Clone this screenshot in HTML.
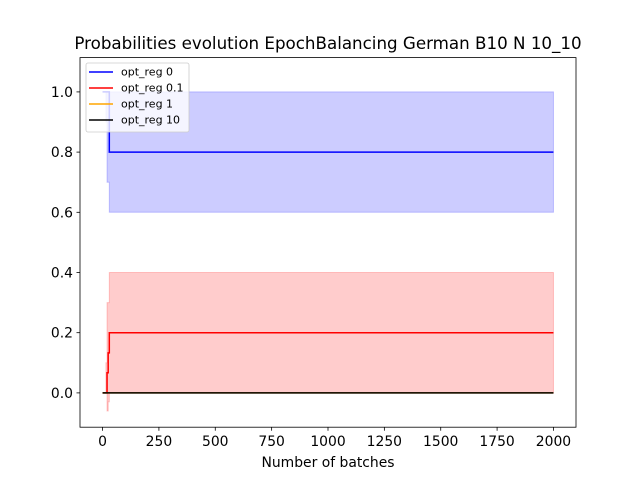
<!DOCTYPE html>
<html><head><meta charset="utf-8"><style>
body{margin:0;background:#fff;font-family:"DejaVu Sans","Liberation Sans",sans-serif;}
svg text{font-family:"DejaVu Sans","Liberation Sans",sans-serif;}
</style></head><body>
<svg id="c" width="640" height="480" xmlns="http://www.w3.org/2000/svg"></svg>
<script>
const batches=[0,15,20,25,30,2000];
const blueMean=[1,1,1,1,0.8,0.8];
const blueLo=[1,0.9,0.7,0.7,0.6,0.6];
const blueHi=[1,1,1,1,1,1];
const redMean=[0,0,0.067,0.133,0.2,0.2];
const redLo=[0,0,-0.06,-0.03,0,0];
const redHi=[0,0.1,0.3,0.3,0.4,0.4];
const zeroMean=[0,0,0,0,0,0];
const xTicks=[0,250,500,750,1000,1250,1500,1750,2000];
const yTicks=[0.0,0.2,0.4,0.6,0.8,1.0];
const L=80,R=576,T=57.6,B=427.2;
const xmin=-100,xmax=2100,ymin=-0.114,ymax=1.114;
const X=v=>L+(v-xmin)/(xmax-xmin)*(R-L);
const Y=v=>B-(v-ymin)/(ymax-ymin)*(B-T);
const svg=document.getElementById('c');const NS='http://www.w3.org/2000/svg';
function mk(t,a,p){const e=document.createElementNS(NS,t);for(const k in a)e.setAttribute(k,a[k]);(p||svg).appendChild(e);return e;}
function stepPts(arr){let p=[];for(let i=0;i<batches.length;i++){if(i>0)p.push([X(batches[i]),Y(arr[i-1])]);p.push([X(batches[i]),Y(arr[i])]);}return p;}
function band(lo,hi,color,name){const a=stepPts(hi),b=stepPts(lo).reverse();const e=mk('polygon',{points:a.concat(b).map(p=>p.join(',')).join(' '),fill:color,'fill-opacity':0.2,stroke:color,'stroke-opacity':0.2,'stroke-width':1});

}
function line(arr,color,name){const e=mk('polyline',{points:stepPts(arr).map(p=>p.join(',')).join(' '),fill:'none',stroke:color,'stroke-width':1.5});

}
band(blueLo,blueHi,'#0000ff','band-opt-reg-0');
band(redLo,redHi,'#ff0000','band-opt-reg-0-1');
line(blueMean,'#0000ff','line-opt-reg-0');
line(redMean,'#ff0000','line-opt-reg-0-1');
line(zeroMean,'#ffa500','line-opt-reg-1');
line(zeroMean,'#000000','line-opt-reg-10');
const fr=mk('rect',{x:L,y:T,width:R-L,height:B-T,fill:'none',stroke:'#000','stroke-width':0.8});

xTicks.forEach(v=>{mk('line',{x1:X(v),x2:X(v),y1:B,y2:B+3.5,stroke:'#000','stroke-width':0.8});const t=mk('text',{x:X(v),y:B+19,'font-size':13.9,'text-anchor':'middle'});t.textContent=v;

});
yTicks.forEach(v=>{mk('line',{x1:L-3.5,x2:L,y1:Y(v),y2:Y(v),stroke:'#000','stroke-width':0.8});const t=mk('text',{x:L-7,y:Y(v)+5,'font-size':13.9,'text-anchor':'end'});t.textContent=v.toFixed(1);

});
const xt=mk('text',{x:(L+R)/2,y:467,'font-size':13.9,'text-anchor':'middle'});xt.textContent='Number of batches';

const tt=mk('text',{x:(L+R)/2,y:49,'font-size':16.7,'text-anchor':'middle'});tt.textContent='Probabilities evolution EpochBalancing German B10 N 10_10';

const lg=mk('g',{});
mk('rect',{x:86,y:63,width:103,height:69,rx:2,fill:'#fff','fill-opacity':0.8,stroke:'#ccc','stroke-width':0.8},lg);
[['opt_reg 0','#0000ff'],['opt_reg 0.1','#ff0000'],['opt_reg 1','#ffa500'],['opt_reg 10','#000000']].forEach((d,i)=>{const y=72+i*16;
const g=mk('g',{},lg);
mk('line',{x1:89,x2:113,y1:y,y2:y,stroke:d[1],'stroke-width':1.5},g);
const t=mk('text',{x:121,y:y+3.5,'font-size':11},g);t.textContent=d[0];});
</script>
</body></html>
